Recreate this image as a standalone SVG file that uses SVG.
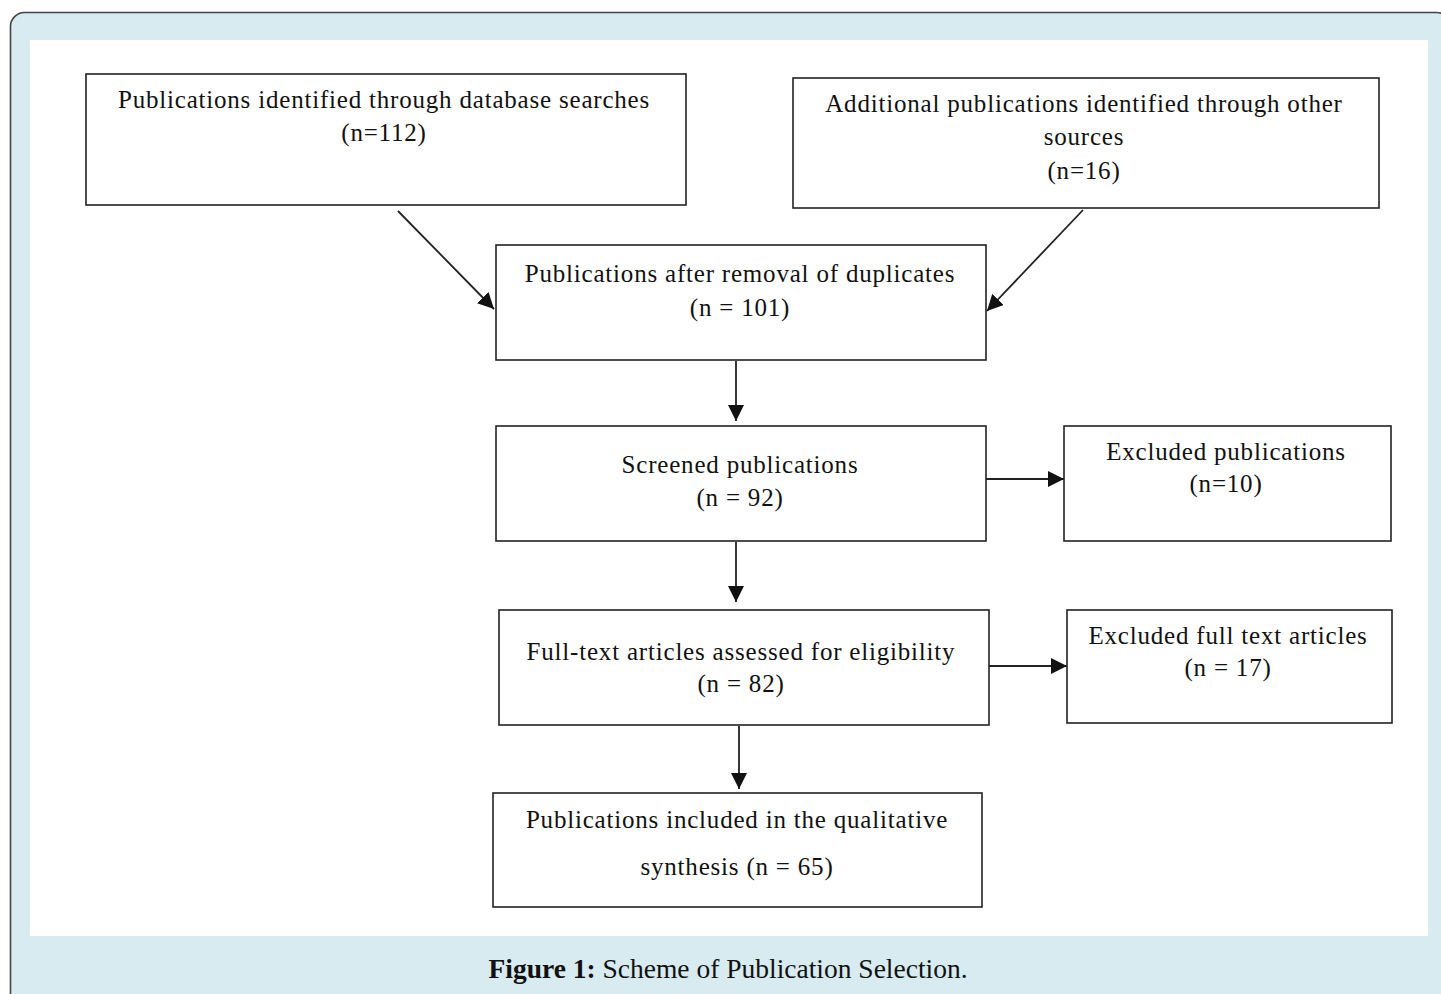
<svg xmlns="http://www.w3.org/2000/svg" width="1441" height="994" viewBox="0 0 1441 994">
<defs>
<style>
.box{fill:#fff;stroke:#222;stroke-width:1.6}
.t{font-family:"Liberation Serif","Times New Roman",serif;font-size:25px;letter-spacing:0.8px;fill:#111;text-anchor:middle}
.c{stroke:#222;stroke-width:1.8;fill:none}
.cap{font-family:"Liberation Serif",serif;font-size:27.5px;fill:#111;text-anchor:middle}
</style>
<marker id="ah2" viewBox="0 0 10 10" refX="10" refY="5" markerWidth="16" markerHeight="16" markerUnits="userSpaceOnUse" orient="auto">
<path d="M0,0 L10,5 L0,10 z" fill="#111"/>
</marker>
</defs>
<rect x="0" y="0" width="1441" height="994" fill="#fff"/>
<rect x="10.5" y="12.5" width="1440" height="1000" rx="14" fill="#d7ebf0" stroke="#444" stroke-width="1.6"/>
<rect x="30" y="40" width="1398" height="896" fill="#fff"/>

<g id="connectors">
<line class="c" x1="398" y1="211" x2="494" y2="309" marker-end="url(#ah2)"/>
<line class="c" x1="1083" y1="210" x2="987" y2="311" marker-end="url(#ah2)"/>
<line class="c" x1="736" y1="361" x2="736" y2="421" marker-end="url(#ah2)"/>
<line class="c" x1="986" y1="479" x2="1064" y2="479" marker-end="url(#ah2)"/>
<line class="c" x1="736" y1="542" x2="736" y2="602" marker-end="url(#ah2)"/>
<line class="c" x1="989" y1="666" x2="1067" y2="666" marker-end="url(#ah2)"/>
<line class="c" x1="739" y1="726" x2="739" y2="789" marker-end="url(#ah2)"/>
</g>

<g id="n1">
<rect class="box" x="86" y="74" width="600" height="131"/>
<text class="t" x="384" y="108">Publications identified through database searches</text>
<text class="t" x="384" y="141">(n=112)</text>
</g>
<g id="n2">
<rect class="box" x="793" y="78" width="586" height="130"/>
<text class="t" x="1084" y="112">Additional publications identified through other</text>
<text class="t" x="1084" y="145">sources</text>
<text class="t" x="1084" y="179">(n=16)</text>
</g>
<g id="n3">
<rect class="box" x="496" y="245" width="490" height="115"/>
<text class="t" x="740" y="282">Publications after removal of duplicates</text>
<text class="t" x="740" y="316">(n = 101)</text>
</g>
<g id="n4">
<rect class="box" x="496" y="426" width="490" height="115"/>
<text class="t" x="740" y="473">Screened publications</text>
<text class="t" x="740" y="506">(n = 92)</text>
</g>
<g id="n5">
<rect class="box" x="1064" y="426" width="327" height="115"/>
<text class="t" x="1226" y="460">Excluded publications</text>
<text class="t" x="1226" y="492">(n=10)</text>
</g>
<g id="n6">
<rect class="box" x="499" y="610" width="490" height="115"/>
<text class="t" x="741" y="660">Full-text articles assessed for eligibility</text>
<text class="t" x="741" y="692">(n = 82)</text>
</g>
<g id="n7">
<rect class="box" x="1067" y="610" width="325" height="113"/>
<text class="t" x="1228" y="644">Excluded full text articles</text>
<text class="t" x="1228" y="676">(n = 17)</text>
</g>
<g id="n8">
<rect class="box" x="493" y="793" width="489" height="114"/>
<text class="t" x="737" y="828">Publications included in the qualitative</text>
<text class="t" x="737" y="875">synthesis (n = 65)</text>
</g>

<text class="cap" x="728" y="978"><tspan font-weight="bold">Figure 1:</tspan> Scheme of Publication Selection.</text>
</svg>
